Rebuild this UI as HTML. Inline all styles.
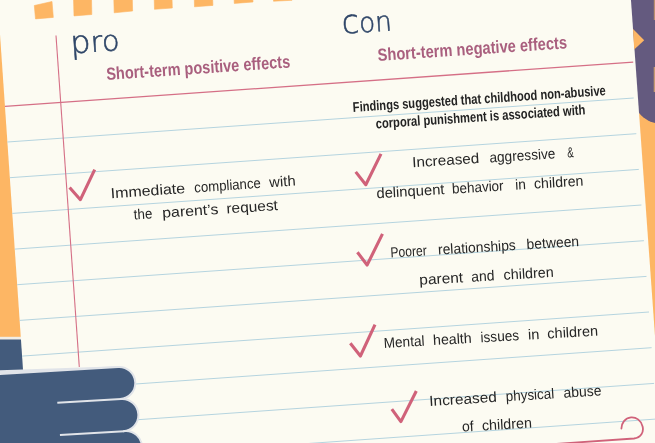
<!DOCTYPE html>
<html lang="en"><head><meta charset="utf-8"><title>Pro and con: short-term effects</title>
<style>html,body{margin:0;padding:0;background:#fcfbf2;}body{width:655px;height:443px;overflow:hidden}svg{display:block}</style>
</head><body>
<svg width="655" height="443" viewBox="0 0 655 443">
<rect width="655" height="443" fill="#fdb664"/>
<path d="M620 -5 L660 -5 L660 124 C651 122.8 643.5 119.5 637 110.5 Z" fill="#645a7f"/>
<rect x="653.8" y="0" width="1.4" height="20" fill="#b98e70"/>
<rect x="653.7" y="67" width="1.5" height="25" fill="#c49a72"/>
<rect x="-5" y="337" width="40" height="120" fill="#435b7c"/>
<rect x="-5" y="336.8" width="40" height="2.7" fill="#f1ede6"/>
<polygon points="-2.7,-5 630.6,-5 663.0,448 28.4,448" fill="#fcfbf2"/>
<polygon points="633,29 644.2,40.3 634.2,49.4" fill="#fdb664"/>
<polygon points="34.3,5.5 52.0,1.5 53.3,17.4 35.5,18.9" fill="#fdb664" stroke="#fdb664" stroke-width="0.6" stroke-linejoin="round"/>
<polygon points="73.5,-2.0 91.5,-2.0 91.8,14.5 74.0,15.9" fill="#fdb664" stroke="#fdb664" stroke-width="0.6" stroke-linejoin="round"/>
<polygon points="113.8,-2.0 132.3,-2.0 132.6,11.0 114.2,12.8" fill="#fdb664" stroke="#fdb664" stroke-width="0.6" stroke-linejoin="round"/>
<polygon points="154.2,-2.0 172.0,-2.0 172.3,8.0 154.5,9.3" fill="#fdb664" stroke="#fdb664" stroke-width="0.6" stroke-linejoin="round"/>
<polygon points="194.3,-2.0 212.6,-2.0 212.9,5.4 194.5,6.8" fill="#fdb664" stroke="#fdb664" stroke-width="0.6" stroke-linejoin="round"/>
<polygon points="234.1,-2.0 252.8,-2.0 253.0,2.0 234.3,3.4" fill="#fdb664" stroke="#fdb664" stroke-width="0.6" stroke-linejoin="round"/>
<polygon points="273.5,-2.0 292.0,-2.0 292.0,0.3 273.5,1.2" fill="#fdb664" stroke="#fdb664" stroke-width="0.6" stroke-linejoin="round"/>
<line x1="7.4" y1="142.0" x2="633.7" y2="98.0" stroke="#b5d4df" stroke-width="1"/>
<line x1="9.9" y1="177.7" x2="636.3" y2="133.7" stroke="#b5d4df" stroke-width="1"/>
<line x1="12.3" y1="213.4" x2="638.8" y2="169.4" stroke="#b5d4df" stroke-width="1"/>
<line x1="14.8" y1="249.1" x2="641.4" y2="205.0" stroke="#b5d4df" stroke-width="1"/>
<line x1="17.2" y1="284.7" x2="643.9" y2="240.7" stroke="#b5d4df" stroke-width="1"/>
<line x1="19.7" y1="320.4" x2="646.5" y2="276.4" stroke="#b5d4df" stroke-width="1"/>
<line x1="22.1" y1="356.1" x2="649.0" y2="312.0" stroke="#b5d4df" stroke-width="1"/>
<line x1="24.6" y1="391.8" x2="651.6" y2="347.7" stroke="#b5d4df" stroke-width="1"/>
<line x1="27.0" y1="427.5" x2="654.1" y2="383.4" stroke="#b5d4df" stroke-width="1"/>
<line x1="29.5" y1="463.1" x2="656.7" y2="419.0" stroke="#b5d4df" stroke-width="1"/>
<line x1="5.0" y1="106.3" x2="633.2" y2="62.1" stroke="#d56f86" stroke-width="1.3"/>
<line x1="56" y1="35.5" x2="79.3" y2="367" stroke="#d56f86" stroke-width="1.1"/>
<text x="71.0" y="53.4" transform="rotate(-3.97 71.0 53.4)" font-family='"DejaVu Sans", "Liberation Sans", sans-serif' font-size="28.5" font-weight="200" fill="#2f4668" textLength="49.1" lengthAdjust="spacingAndGlyphs" stroke="#2f4668" stroke-width="0.55"><tspan font-size="31.5">p</tspan>ro</text>
<text x="342.6" y="33.8" transform="rotate(-4.02 342.6 33.8)" font-family='"DejaVu Sans", "Liberation Sans", sans-serif' font-size="27.5" font-weight="200" fill="#2f4668" textLength="49.9" lengthAdjust="spacingAndGlyphs" stroke="#2f4668" stroke-width="0.55"><tspan font-size="33">c</tspan>on</text>
<text x="106.7" y="80.0" transform="rotate(-3.92 106.7 80.0)" font-family='"Liberation Sans", sans-serif' font-size="17.6" font-weight="bold" fill="#a95f7e" textLength="184.2" lengthAdjust="spacingAndGlyphs" >Short-term positive effects</text>
<text x="378.0" y="61.0" transform="rotate(-3.84 378.0 61.0)" font-family='"Liberation Sans", sans-serif' font-size="17.6" font-weight="bold" fill="#a95f7e" textLength="189.8" lengthAdjust="spacingAndGlyphs" >Short-term negative effects</text>
<text x="353.1" y="111.9" transform="rotate(-3.78 353.1 111.9)" font-family='"Liberation Sans", sans-serif' font-size="14" font-weight="bold" fill="#232323" textLength="253.5" lengthAdjust="spacingAndGlyphs" >Findings suggested that childhood non-abusive</text>
<text x="376.0" y="128.4" transform="rotate(-3.82 376.0 128.4)" font-family='"Liberation Sans", sans-serif' font-size="14" font-weight="bold" fill="#232323" textLength="210.0" lengthAdjust="spacingAndGlyphs" >corporal punishment is associated with</text>
<text x="111.0" y="198.2" transform="rotate(-3.96 111.0 198.2)" font-family='"Liberation Sans", sans-serif' font-size="14.5" fill="#262626"><tspan x="111.0" textLength="74.6" lengthAdjust="spacingAndGlyphs">Immediate</tspan> <tspan x="194.8" textLength="66.6" lengthAdjust="spacingAndGlyphs">compliance</tspan> <tspan x="270.0" textLength="26.3" lengthAdjust="spacingAndGlyphs">with</tspan></text>
<text x="134.0" y="219.6" transform="rotate(-3.81 134.0 219.6)" font-family='"Liberation Sans", sans-serif' font-size="14.5" fill="#262626"><tspan x="134.0" textLength="18.6" lengthAdjust="spacingAndGlyphs">the</tspan> <tspan x="162.6" textLength="56.2" lengthAdjust="spacingAndGlyphs">parent’s</tspan> <tspan x="226.9" textLength="51.6" lengthAdjust="spacingAndGlyphs">request</tspan></text>
<text x="412.5" y="167.2" transform="rotate(-3.54 412.5 167.2)" font-family='"Liberation Sans", sans-serif' font-size="14.5" fill="#262626"><tspan x="412.5" textLength="67.2" lengthAdjust="spacingAndGlyphs">Increased</tspan> <tspan x="489.8" textLength="66.2" lengthAdjust="spacingAndGlyphs">aggressive</tspan> <tspan x="567.9" textLength="6.4" lengthAdjust="spacingAndGlyphs">&amp;</tspan></text>
<text x="376.7" y="198.2" transform="rotate(-3.48 376.7 198.2)" font-family='"Liberation Sans", sans-serif' font-size="14.5" fill="#262626"><tspan x="376.7" textLength="68.1" lengthAdjust="spacingAndGlyphs">delinquent</tspan> <tspan x="452.3" textLength="51.8" lengthAdjust="spacingAndGlyphs">behavior</tspan> <tspan x="515.8" textLength="10.7" lengthAdjust="spacingAndGlyphs">in</tspan> <tspan x="534.6" textLength="49.4" lengthAdjust="spacingAndGlyphs">children</tspan></text>
<text x="390.7" y="257.5" transform="rotate(-3.49 390.7 257.5)" font-family='"Liberation Sans", sans-serif' font-size="14.5" fill="#262626"><tspan x="390.7" textLength="36.3" lengthAdjust="spacingAndGlyphs">Poorer</tspan> <tspan x="438.4" textLength="77.9" lengthAdjust="spacingAndGlyphs">relationships</tspan> <tspan x="527.1" textLength="52.6" lengthAdjust="spacingAndGlyphs">between</tspan></text>
<text x="419.6" y="284.8" transform="rotate(-3.41 419.6 284.8)" font-family='"Liberation Sans", sans-serif' font-size="14.5" fill="#262626"><tspan x="419.6" textLength="43.9" lengthAdjust="spacingAndGlyphs">parent</tspan> <tspan x="471.6" textLength="23.2" lengthAdjust="spacingAndGlyphs">and</tspan> <tspan x="504.0" textLength="50.2" lengthAdjust="spacingAndGlyphs">children</tspan></text>
<text x="384.0" y="347.9" transform="rotate(-3.29 384.0 347.9)" font-family='"Liberation Sans", sans-serif' font-size="14.5" fill="#262626"><tspan x="384.0" textLength="40.8" lengthAdjust="spacingAndGlyphs">Mental</tspan> <tspan x="433.4" textLength="38.7" lengthAdjust="spacingAndGlyphs">health</tspan> <tspan x="480.9" textLength="38.7" lengthAdjust="spacingAndGlyphs">issues</tspan> <tspan x="528.5" textLength="11.4" lengthAdjust="spacingAndGlyphs">in</tspan> <tspan x="547.9" textLength="50.7" lengthAdjust="spacingAndGlyphs">children</tspan></text>
<text x="429.6" y="406.0" transform="rotate(-3.56 429.6 406.0)" font-family='"Liberation Sans", sans-serif' font-size="14.5" fill="#262626"><tspan x="429.6" textLength="67.6" lengthAdjust="spacingAndGlyphs">Increased</tspan> <tspan x="506.2" textLength="48.5" lengthAdjust="spacingAndGlyphs">physical</tspan> <tspan x="564.0" textLength="38.0" lengthAdjust="spacingAndGlyphs">abuse</tspan></text>
<text x="462.3" y="431.6" transform="rotate(-3.28 462.3 431.6)" font-family='"Liberation Sans", sans-serif' font-size="14.5" fill="#262626"><tspan x="462.3" textLength="11.7" lengthAdjust="spacingAndGlyphs">of</tspan> <tspan x="482.2" textLength="50.0" lengthAdjust="spacingAndGlyphs">children</tspan></text>
<polyline points="69.6,187.4 80.4,199.7 94.7,169.6" fill="none" stroke="#d0627a" stroke-width="3.1" stroke-linejoin="round"/>
<polyline points="355.7,171.9 365.8,184.7 381,153.9" fill="none" stroke="#d0627a" stroke-width="3.1" stroke-linejoin="round"/>
<polyline points="357.4,252.2 367.1,265 382.5,233.9" fill="none" stroke="#d0627a" stroke-width="3.1" stroke-linejoin="round"/>
<polyline points="350.3,343.2 360.4,356 375,324.7" fill="none" stroke="#d0627a" stroke-width="3.1" stroke-linejoin="round"/>
<polyline points="391.8,409.2 400.9,421.6 416.3,391" fill="none" stroke="#d0627a" stroke-width="3.1" stroke-linejoin="round"/>
<path d="M555 444 L634 438.5 C641 437.5 644 432 642.6 426.5 C641 420 636 417 631 417.4 C625 418 621.5 423 621.4 428.6" fill="none" stroke="#d0627a" stroke-width="1.8" stroke-linecap="round"/>
<g transform="translate(0 374) rotate(-3.4)">
<polygon points="-5,-3.8 118,-0.8 118,1 -5,1" fill="#e1e4e9"/>
<path d="M-60 0 L118.4 0 A16.1 16.1 0 0 1 118.4 32.2 L119.6 32.2 A16.1 16.1 0 0 1 119.6 64.4 L121.4 64.4 A16.1 16.1 0 0 1 121.4 96.6 L-60 96.6 Z" fill="#435b7c" stroke="#e1e4e9" stroke-width="2"/>
<line x1="55.5" y1="32.2" x2="119.4" y2="32.2" stroke="#e1e4e9" stroke-width="2"/>
<line x1="56.2" y1="64.4" x2="120.6" y2="64.4" stroke="#e1e4e9" stroke-width="2"/>
</g>
</svg>
</body></html>
